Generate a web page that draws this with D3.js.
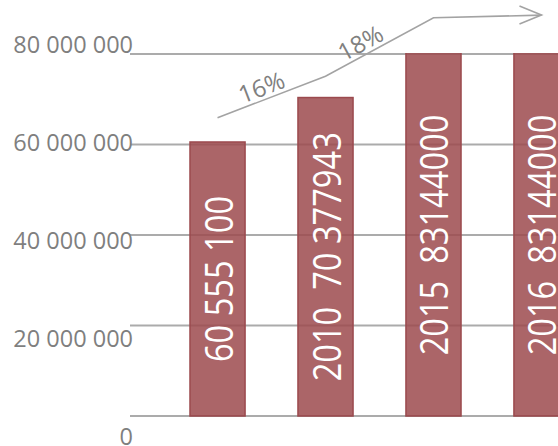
<!DOCTYPE html>
<html><head><meta charset="utf-8">
<script src="https://cdn.jsdelivr.net/npm/d3@7"></script>
<style>
html,body{margin:0;padding:0;background:#fff;overflow:hidden}
svg{display:block}
</style></head>
<body>
<svg id="chart" width="558" height="446"></svg>
<script>
const categories = ["2005", "2010", "2015", "2016"];
const values = [60555100, 70377943, 83144000, 83144000];
const barLabels = ["60 555 100", "2010  70 377943", "2015  83144000", "2016  83144000"];
const tickValues = [0, 20000000, 40000000, 60000000, 80000000];
const tickLabels = ["0", "20 000 000", "40 000 000", "60 000 000", "80 000 000"];
const arrowValues = [65900000, 75100000, 88000000, 88600000];
const growthLabels = ["16%", "18%"];

const svg = d3.select("#chart");
const W = 558, H = 446;

const x = d3.scaleBand().domain(categories).range([163, 596]).paddingInner(0.49).paddingOuter(0.25);
const y = d3.scaleLinear().domain([0, 80000000]).range([416, 54]);
const yLab = d3.scaleLinear().domain([0, 80000000]).range([436, 44]);

// gridlines
svg.append("g").selectAll("line").data(tickValues).join("line")
  .attr("x1", 130).attr("x2", W)
  .attr("y1", d => y(d)).attr("y2", d => y(d))
  .attr("stroke", "#ababab").attr("stroke-width", 2);

// tick labels
svg.append("g").selectAll("text").data(tickValues).join("text")
  .attr("x", 133).attr("y", d => yLab(d))
  .attr("text-anchor", "end").attr("dominant-baseline", "central")
  .attr("font-family", "Open Sans").attr("font-size", 23.5)
  .attr("fill", "#7f7f7f")
  .text((d, i) => tickLabels[i]);

// clip
svg.append("clipPath").attr("id", "clip").append("rect")
  .attr("x", 0).attr("y", y(80000000) - 1).attr("width", W).attr("height", H);

const data = categories.map((c, i) => ({c, v: values[i], label: barLabels[i]}));
const bars = svg.append("g").attr("clip-path", "url(#clip)");
bars.selectAll("rect").data(data).join("rect")
  .attr("x", d => x(d.c)).attr("width", x.bandwidth())
  .attr("y", d => y(d.v)).attr("height", d => y(0) - y(d.v))
  .attr("fill", "#9c4a4d").attr("fill-opacity", 0.85)
  .attr("stroke", "#9b4a4e").attr("stroke-width", 1.5);

const topVisible = y(80000000);
svg.append("g").selectAll("text").data(data).join("text")
  .attr("transform", d => {
    const cx = x(d.c) + x.bandwidth() / 2;
    const cy = (Math.max(y(d.v), topVisible) + y(0)) / 2;
    return `translate(${cx},${cy}) rotate(-90) scale(0.87,1)`;
  })
  .attr("y", 15)
  .attr("text-anchor", "middle")
  .attr("font-family", "Open Sans").attr("font-size", 37.5)
  .attr("fill", "#ffffff")
  .style("white-space", "pre")
  .text(d => d.label);

// arrow
const pts = categories.map((c, i) => [x(c) + x.bandwidth() / 2, y(arrowValues[i])]);
svg.append("path")
  .attr("d", d3.line()(pts))
  .attr("fill", "none").attr("stroke", "#a3a3a3").attr("stroke-width", 1.6);
const end = pts[pts.length - 1];
svg.append("path")
  .attr("d", d3.line()([[end[0] - 22, end[1] - 9], end, [end[0] - 22, end[1] + 9]]))
  .attr("fill", "none").attr("stroke", "#a3a3a3").attr("stroke-width", 1.6);

// growth labels
const growthPos = [
  {i: 0, dx: 0.45, off: -12},
  {i: 1, dx: 0.4, off: -12}
];
svg.append("g").selectAll("text").data(growthLabels).join("text")
  .attr("transform", (d, k) => {
    const a = pts[k], b = pts[k + 1];
    const t = k === 0 ? 0.45 : 0.38;
    const px = a[0] + (b[0] - a[0]) * t;
    const py = a[1] + (b[1] - a[1]) * t;
    const ang = Math.atan2(b[1] - a[1], b[0] - a[0]) * 180 / Math.PI;
    return `translate(${px},${py}) rotate(${ang})`;
  })
  .attr("y", -4)
  .attr("text-anchor", "middle")
  .attr("font-family", "Open Sans").attr("font-size", 24)
  .attr("fill", "#808080")
  .text(d => d);
</script>
</body></html>
